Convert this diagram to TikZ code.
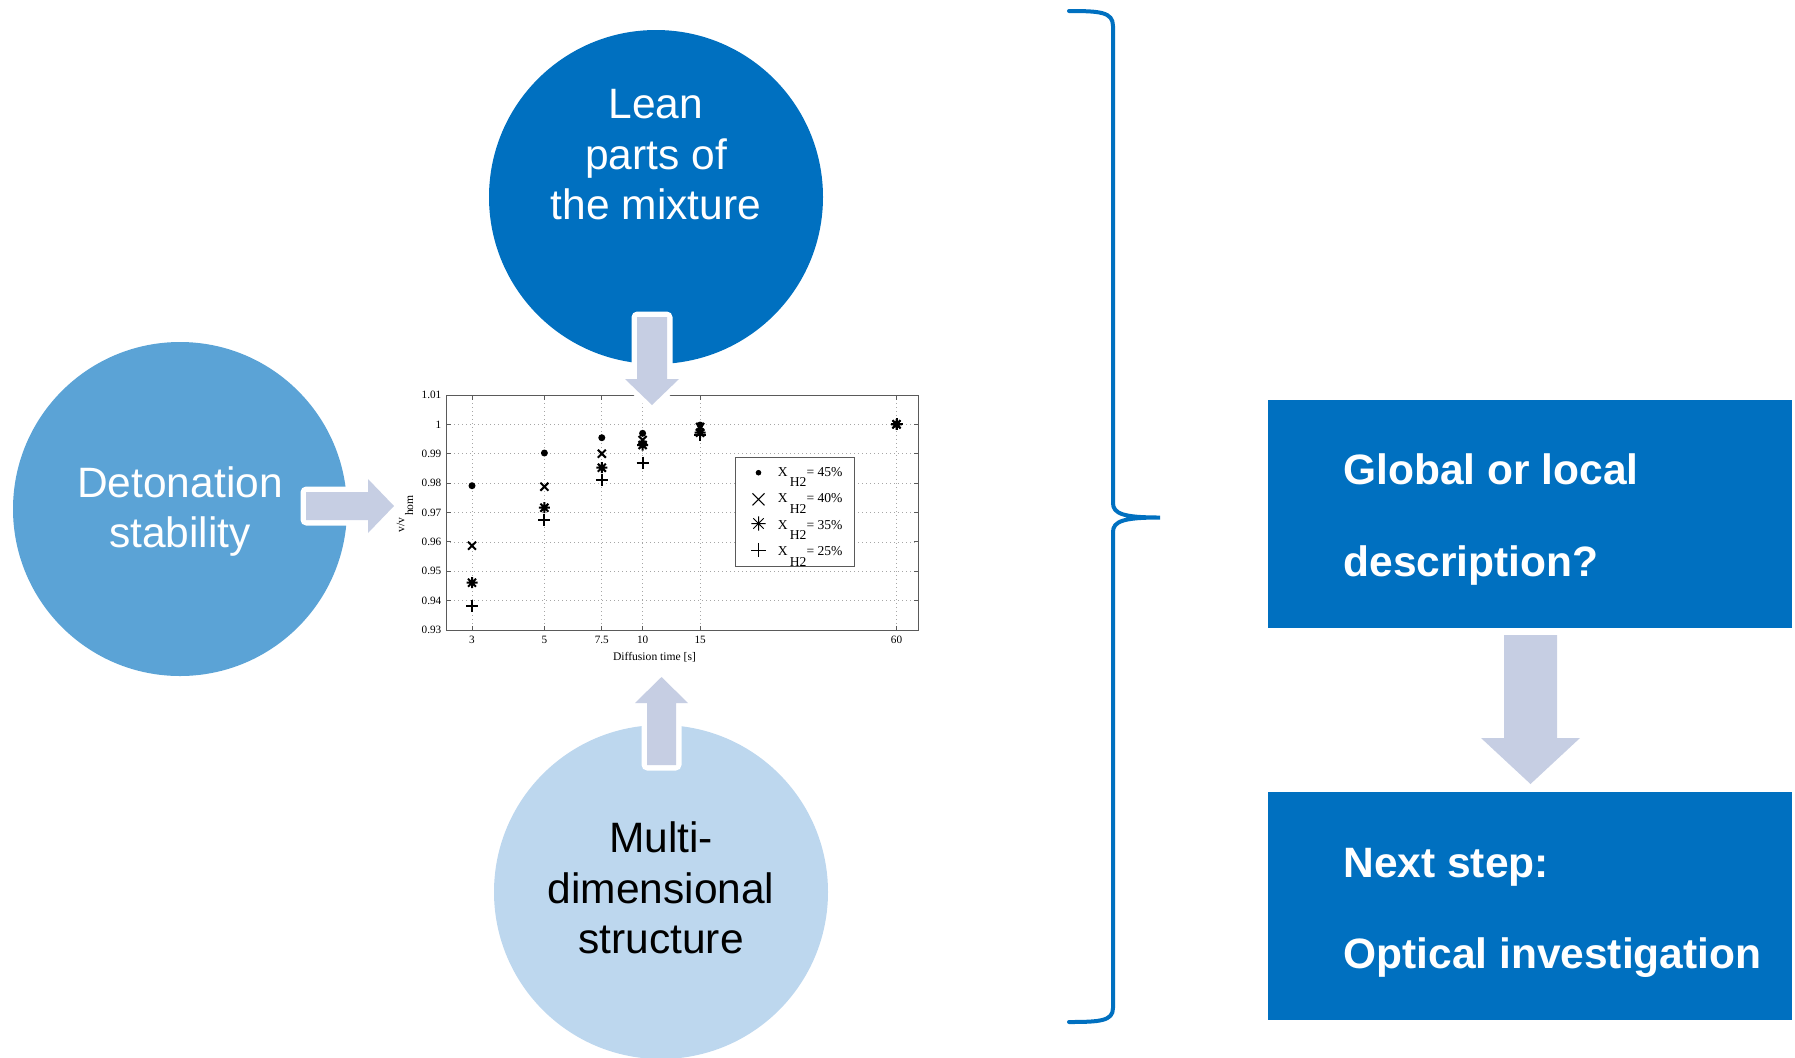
\documentclass[tikz,border=0pt]{standalone}
\usepackage{fontspec}
\setmainfont{Liberation Sans}
\newfontfamily\chartfont{Liberation Serif}
\definecolor{darkblue}{RGB}{0,112,192}
\definecolor{midblue}{RGB}{91,163,214}
\definecolor{lightblue}{RGB}{189,215,238}
\definecolor{arrcol}{RGB}{198,206,227}
\definecolor{axisgray}{RGB}{90,90,90}
\begin{document}
\begin{tikzpicture}[x=0.5pt,y=-0.5pt,
  blob/.style={circle, minimum size=167pt, inner sep=0pt, draw=none},
  bigtxt/.style={font=\fontsize{21.25pt}{25.25pt}\selectfont, align=center, inner sep=0pt},
  boxtxt/.style={font=\fontsize{21.25pt}{24pt}\selectfont\bfseries, text=white, inner sep=0pt, anchor=base west},
  bluebox/.style={rectangle, fill=darkblue, minimum width=262pt, minimum height=114pt, anchor=north west, inner sep=0pt},
  blockarrow/.style={fill=arrcol, preaction={draw=white, line width=5.5pt, line join=round}},
  ticklab/.style={font=\chartfont\fontsize{5.6pt}{6pt}\selectfont, inner sep=0pt},
  leglab/.style={font=\chartfont\fontsize{6.8pt}{7.5pt}\selectfont, inner sep=0pt, anchor=base west},
  gridline/.style={draw=gray!70, line width=0.4pt, dash pattern=on 0.5pt off 1.5pt},
  mk/.style={line width=1pt},
  mdot/.pic={\fill (0,0) circle (1.75pt);},
  mcross/.pic={\draw[mk] (-4,-4)--(4,4) (-4,4)--(4,-4);},
  mstar/.pic={\draw[mk] (-5.5,0)--(5.5,0) (0,-5.5)--(0,5.5) (-4,-4)--(4,4) (-4,4)--(4,-4);},
  mplus/.pic={\draw[mk] (-6,0)--(6,0) (0,-6)--(0,6);},
  bracestyle/.style={draw=darkblue, line width=2pt, line cap=round}
]
\useasboundingbox (0,0) rectangle (1795,1057);

% ---------------- chart ----------------
\foreach \xx in {472.0,544.4,601.8,642.6,700.1,896.5}{
  \draw[gridline] (\xx,395) -- (\xx,630);
  \draw[axisgray, line width=0.5pt] (\xx,630) -- (\xx,625.5) (\xx,395) -- (\xx,399.5);
}
\foreach \yy in {424.3,453.7,483.1,512.5,541.9,571.2,600.6}{
  \draw[gridline] (446.1,\yy) -- (918.6,\yy);
}
\foreach \yy in {395,424.3,453.7,483.1,512.5,541.9,571.2,600.6,630}{
  \draw[axisgray, line width=0.5pt] (446.1,\yy) -- (450.6,\yy) (918.6,\yy) -- (914.1,\yy);
}
\node[draw=axisgray, line width=0.5pt, minimum width=236.25pt, minimum height=117.5pt, inner sep=0pt] (axes) at (682.35,512.5) {};

\foreach \yy/\lab in {395/1.01,424.3/1,453.7/0.99,483.1/0.98,512.5/0.97,541.9/0.96,571.2/0.95,600.6/0.94,630/0.93}{
  \node[ticklab, anchor=east] at (441.7,\yy) {\lab};
}
\foreach \xx/\lab in {472.0/3,544.4/5,601.8/7.5,642.6/10,700.1/15,896.5/60}{
  \node[ticklab] at (\xx,640) {\lab};
}
\node[font=\chartfont\fontsize{5.8pt}{6.5pt}\selectfont, inner sep=0pt] (xlab) at (654.5,657) {Diffusion time [s]};
\node[font=\chartfont\fontsize{5.8pt}{6.5pt}\selectfont, inner sep=0pt, rotate=90] (ylab) at (405,514) {v/v\,\raisebox{-0.75em}{hom}};

% data
\pic at (472.0,485.7) {mdot};
\pic at (472.0,545.7) {mcross};
\pic at (472.0,582.7) {mstar};
\pic at (472.0,606) {mplus};
\pic at (544.4,453) {mdot};
\pic at (544.4,486.7) {mcross};
\pic at (544.4,507.7) {mstar};
\pic at (544.4,519.7) {mplus};
\pic at (601.8,437.7) {mdot};
\pic at (601.8,453.7) {mcross};
\pic at (601.8,467.7) {mstar};
\pic at (601.8,480) {mplus};
\pic at (642.6,440) {mcross};
\pic at (642.6,433.3) {mdot};
\pic at (642.6,445) {mstar};
\pic at (642.6,462.7) {mplus};
\pic at (700.1,427) {mcross};
\pic at (700.1,432.7) {mstar};
\pic at (700.1,435) {mplus};
\pic at (700.1,425) {mdot};
\pic at (896.5,424.3) {mcross};
\pic at (896.5,424.3) {mstar};
\pic at (896.5,424.3) {mplus};
\pic at (896.5,424.3) {mdot};

% legend
\node[draw=axisgray, fill=white, line width=0.5pt, minimum width=59.2pt, minimum height=54.5pt, anchor=north west, inner sep=0pt] (legend) at (735.4,456.7) {};
\begin{scope}[mk/.style={line width=0.5pt}]
  \pic[scale=0.8] at (758.5,472.7) {mdot};
  \pic[scale=1.5] at (758.5,499.3) {mcross};
  \pic[scale=1.3] at (758.5,523.5) {mstar};
  \pic[scale=1.2] at (758.5,550) {mplus};
\end{scope}
\node[leglab] (l1) at (777.4,476) {X\,\raisebox{-0.8em}{H2}= 45\%};
\node[leglab] (l2) at (777.4,502.5) {X\,\raisebox{-0.8em}{H2}= 40\%};
\node[leglab] (l3) at (777.4,529) {X\,\raisebox{-0.8em}{H2}= 35\%};
\node[leglab] (l4) at (777.4,555.5) {X\,\raisebox{-0.8em}{H2}= 25\%};

% ---------------- circles ----------------
\node[blob, fill=darkblue] (lean) at (656,197) {};
\node[bigtxt, text=white] (leantxt) at (656,155) {Lean\\parts of\\the mixture};
\node[blob, fill=midblue] (deton) at (180,509) {};
\node[bigtxt, text=white] (detontxt) at (180,511.5) {Detonation\\stability};
\node[blob, fill=lightblue] (multi) at (661,892) {};
\node[bigtxt, text=black] (multitxt) at (661,888) {Multi-\\dimensional\\structure};

% ---------------- block arrows ----------------
\path[blockarrow] (637,317) -- (667,317) -- (667,379) -- (679,379) -- (652,405) -- (625,379) -- (637,379) -- cycle;
\path[blockarrow] (647,765) -- (676,765) -- (676,703) -- (688,703) -- (661.5,677) -- (635,703) -- (647,703) -- cycle;
\path[blockarrow] (306,492) -- (368,492) -- (368,479) -- (394,506) -- (368,533) -- (368,520) -- (306,520) -- cycle;

% ---------------- right side ----------------
\node[bluebox] (box1) at (1268,400) {};
\node[bluebox] (box2) at (1268,792) {};
\node[boxtxt] (b1a) at (1343,484) {Global or local};
\node[boxtxt] (b1b) at (1343,576) {description?};
\node[boxtxt] (b2a) at (1343,877) {Next step:};
\node[boxtxt] (b2b) at (1343,968) {Optical investigation};
\fill[arrcol] (1504,635) -- (1557,635) -- (1557,738) -- (1580,738) -- (1530.5,784) -- (1481,738) -- (1504,738) -- cycle;

% ---------------- brace ----------------
\coordinate (btop) at (1069,11);
\coordinate (btip) at (1160,517.5);
\coordinate (bbot) at (1069,1022);
\draw[bracestyle] (btop) .. controls (1100,11) and (1113,12) .. (1113,26) -- (1113,503)
  .. controls (1113,514) and (1124,517.5) .. (btip)
  .. controls (1124,517.5) and (1113,521) .. (1113,532) -- (1113,1008)
  .. controls (1113,1021) and (1100,1022) .. (bbot);
\end{tikzpicture}
\end{document}
